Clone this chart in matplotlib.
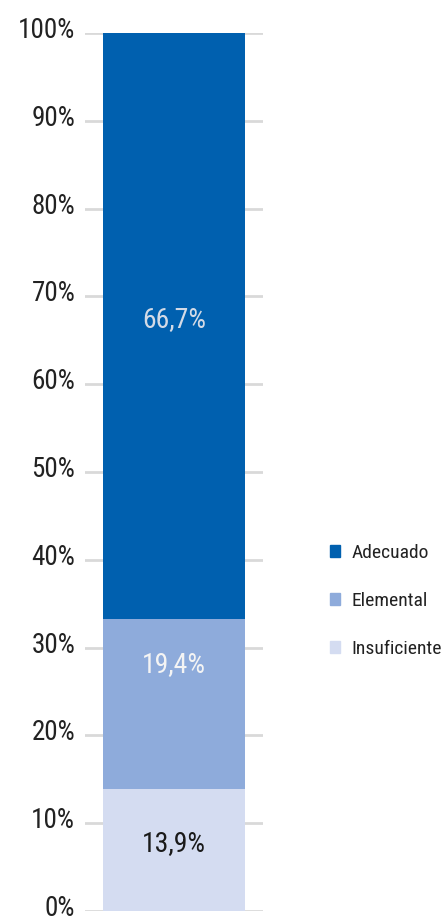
import matplotlib.pyplot as plt
import matplotlib.transforms as mtransforms
from matplotlib.patches import Patch

plt.rcParams['font.family'] = ['Roboto Condensed', 'Archivo Narrow', 'DejaVu Sans']

# Data
categories = ['Insuficiente', 'Elemental', 'Adecuado']
values = [13.9, 19.4, 66.7]
labels = ['13,9%', '19,4%', '66,7%']
colors = ['#d4dcf1', '#8eabdb', '#0060af']
label_colors = ['#1a1a1a', '#f4f4f4', '#d3dae6']
label_frac = [0.55, 0.73, 0.51]  # where inside each segment the label sits
yticks = list(range(0, 101, 10))

fig = plt.figure(figsize=(4.41, 9.18), dpi=100)
ax = fig.add_axes([85 / 441, 1 - 911 / 918, 178 / 441, 878 / 918])

bottom = 0
for v, c, lab, lc, f in zip(values, colors, labels, label_colors, label_frac):
    ax.bar(0, v, bottom=bottom, width=0.8, color=c, zorder=3)
    ax.text(0, bottom + v * f, lab, ha='center', va='center',
            fontsize=20, color=lc, zorder=4)
    bottom += v

ax.set_xlim(-0.5, 0.5)
ax.set_ylim(0, 100)
ax.set_yticks(yticks)
ax.set_yticklabels([f'{t}%' for t in yticks], fontsize=19.5, color='#222222')
ax.set_xticks([])
ax.tick_params(axis='y', length=0, pad=7)
# labels sit a little above their gridline in the original
lift = mtransforms.ScaledTranslation(0, 4 / 72, fig.dpi_scale_trans)
for t in ax.get_yticklabels():
    t.set_transform(t.get_transform() + lift)
ax.yaxis.grid(True, color='#d9d9d9', linewidth=2, zorder=0)
for s in ax.spines.values():
    s.set_visible(False)

handles = [Patch(color=c, label=n) for c, n in zip(colors[::-1], categories[::-1])]
fig.legend(handles=handles, loc='center left', bbox_to_anchor=(312 / 441, 1 - 601 / 918),
           frameon=False, fontsize=14, handlelength=0.55, handleheight=0.55,
           handletextpad=0.6, labelspacing=1.55, labelcolor='#222222')

plt.savefig('out.png', dpi=100)
